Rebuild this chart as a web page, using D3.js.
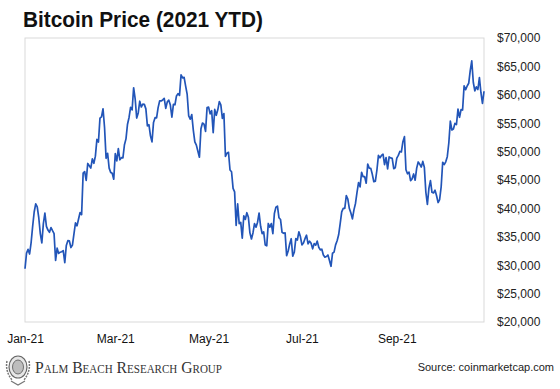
<!DOCTYPE html>
<html>
<head>
<meta charset="utf-8">
<script src="https://cdn.jsdelivr.net/npm/d3@7"></script>
<style>
  html, body { margin: 0; padding: 0; background: #ffffff; }
  svg { display: block; }
</style>
</head>
<body>
<svg id="chart" width="560" height="389"></svg>
<script>
// ---- Data (daily BTC close, 2021) ----
const startDate = "2021-01-01";
const priceJan = [29374,32127,32782,31971,33992,36824,39371,40797,40254,38356,35566,33922,37316,39187,36825,36178,35792,36630,36069,35548,30826,33006,32068,32289,32366,32569,30432,33467,34316,34270,33114];
const priceFeb = [33538,35510,37473,36926,38144,39266,38903,46196,46481,44919,47909,47504,47105,48717,47945,49199,52149,51679,55888,56100,57539,54207,48824,49705,47093,46339,46188,45137];
const priceMar = [49631,48378,50538,48561,48927,48912,51206,52246,54824,56008,57805,57332,61243,59302,55907,56804,58870,57858,58347,58313,57524,54529,54738,52775,51705,55137,55974,55948,57751,58918,58918];
const priceApr = [59095,59384,57604,58759,59057,58192,56048,58323,58245,59793,60204,59894,63504,62986,63075,61526,60058,56274,55703,56508,53788,51727,51143,50052,49005,54022,55033,54825,53556,57750];
const priceMay = [57829,56632,57200,53333,57424,56397,57357,58804,58232,55860,56705,49150,49716,49880,46760,46456,43537,42910,37002,40782,37304,37537,34770,38706,38054,39241,38436,35698,34617,35678,37332];
const priceJun = [36685,37576,39188,36852,35551,35863,33561,33403,37346,36702,37334,35552,39098,40218,40407,38348,38054,35787,35615,35698,31676,32505,33723,34663,31594,32271,34668,34435,35867,35041];
const priceJul = [33572,33897,34668,35287,33746,34235,33855,32877,33798,33520,34240,33155,32702,32822,31781,31421,31533,31796,30817,29807,32110,32314,33581,34292,35350,37337,39406,39995,40008,42236,41626];
const priceAug = [39975,39201,38152,39747,40870,42816,44556,43798,46365,45585,45593,44428,47793,47096,47047,46004,44695,44802,46717,49339,48905,49321,49546,47706,48960,46942,49058,48897,48806,46991,47166];
const priceSep = [48847,49327,50025,49944,51753,52633,46811,46091,46391,44883,45201,46063,44963,47092,48177,47783,47268,48279,47260,42844,40694,43574,44895,42840,42716,43208,42236,41035,41564,43790];
const priceOct = [48116,47712,48200,49112,51514,55361,53805,53967,54968,54771,57484,56041,57401,57321,61593,60892,61553,62026,64262,65993,62210,60692,61393,60931,63039,60364,58482,60622];

const xTickDates = ["2021-01-01","2021-03-01","2021-05-01","2021-07-01","2021-09-01"];
const yTickValues = [20000,25000,30000,35000,40000,45000,50000,55000,60000,65000,70000];

const titleText = "Bitcoin Price (2021 YTD)";
const brandText = "Palm Beach Research Group";
const sourceText = "Source: coinmarketcap.com";

// ---- Build series ----
const parse = d3.utcParse("%Y-%m-%d");
const allPrices = [].concat(priceJan, priceFeb, priceMar, priceApr, priceMay, priceJun, priceJul, priceAug, priceSep, priceOct);
const t0 = parse(startDate);
const series = allPrices.map((v, i) => ({ date: d3.utcDay.offset(t0, i), value: v }));

// ---- Layout ----
const svg = d3.select("#chart");
const plot = { left: 25, right: 484, top: 38, bottom: 322 };

const x = d3.scaleUtc()
  .domain(d3.extent(series, d => d.date))
  .range([plot.left, plot.right]);
const y = d3.scaleLinear()
  .domain([20000, 70000])
  .range([plot.bottom, plot.top]);

// Title
svg.append("text")
  .attr("x", 23).attr("y", 27)
  .attr("font-family", "'Liberation Sans Narrow', 'Arial Narrow', 'Liberation Sans', Arial, sans-serif")
  .attr("font-weight", "bold")
  .attr("font-size", 22)
  .attr("fill", "#111")
  .attr("textLength", 240)
  .attr("lengthAdjust", "spacingAndGlyphs")
  .text(titleText);

// Plot frame
svg.append("rect")
  .attr("x", plot.left).attr("y", plot.top)
  .attr("width", plot.right - plot.left)
  .attr("height", plot.bottom - plot.top)
  .attr("fill", "none")
  .attr("stroke", "#d9d9d9")
  .attr("stroke-width", 1);

// Y axis (right side labels)
const yAxis = d3.axisRight(y)
  .tickValues(yTickValues)
  .tickSize(0)
  .tickPadding(0)
  .tickFormat(d => "$" + d3.format(",")(d));
const gy = svg.append("g")
  .attr("transform", `translate(497,0)`)
  .call(yAxis);
gy.select(".domain").remove();
gy.selectAll("text")
  .attr("font-family", "'Liberation Sans', Arial, sans-serif")
  .attr("font-size", 12)
  .attr("fill", "#222");

// X axis (labels only)
const xAxis = d3.axisBottom(x)
  .tickValues(xTickDates.map(parse))
  .tickSize(0)
  .tickPadding(0)
  .tickFormat(d3.utcFormat("%b-%y"));
const gx = svg.append("g")
  .attr("transform", `translate(0,334)`)
  .call(xAxis);
gx.select(".domain").remove();
gx.selectAll("text")
  .attr("font-family", "'Liberation Sans', Arial, sans-serif")
  .attr("font-size", 12)
  .attr("fill", "#111");

// Price line
const line = d3.line()
  .x(d => x(d.date))
  .y(d => y(d.value))
  .curve(d3.curveLinear);
svg.append("path")
  .datum(series)
  .attr("d", line)
  .attr("fill", "none")
  .attr("stroke", "#2255b8")
  .attr("stroke-width", 1.7)
  .attr("stroke-linejoin", "round");

// Footer emblem (simple crest)
const crest = svg.append("g").attr("transform", "translate(18,367)");
crest.append("ellipse").attr("rx", 9).attr("ry", 11).attr("fill", "#e6e6e6").attr("stroke", "#666").attr("stroke-width", 1.2);
crest.append("ellipse").attr("rx", 5.5).attr("ry", 7).attr("fill", "#bdbdbd").attr("stroke", "#555").attr("stroke-width", 0.8);
crest.append("path").attr("d", "M-11,-6 Q-13,4 -6,13 M11,-6 Q13,4 6,13").attr("fill", "none").attr("stroke", "#777").attr("stroke-width", 1.5).attr("stroke-dasharray", "2,1");
crest.append("path").attr("d", "M-7,14 L0,18 L7,14").attr("fill", "none").attr("stroke", "#777").attr("stroke-width", 1.2);

// Brand text
svg.append("text")
  .attr("x", 35).attr("y", 373)
  .attr("font-family", "'Liberation Serif', 'Times New Roman', serif")
  .attr("font-size", 17)
  .attr("font-variant", "small-caps")
  .attr("fill", "#333")
  .attr("textLength", 187)
  .attr("lengthAdjust", "spacingAndGlyphs")
  .text(brandText);

// Source text
svg.append("text")
  .attr("x", 554).attr("y", 371)
  .attr("text-anchor", "end")
  .attr("font-family", "'Liberation Sans', Arial, sans-serif")
  .attr("font-size", 11)
  .attr("fill", "#222")
  .text(sourceText);
</script>
</body>
</html>
